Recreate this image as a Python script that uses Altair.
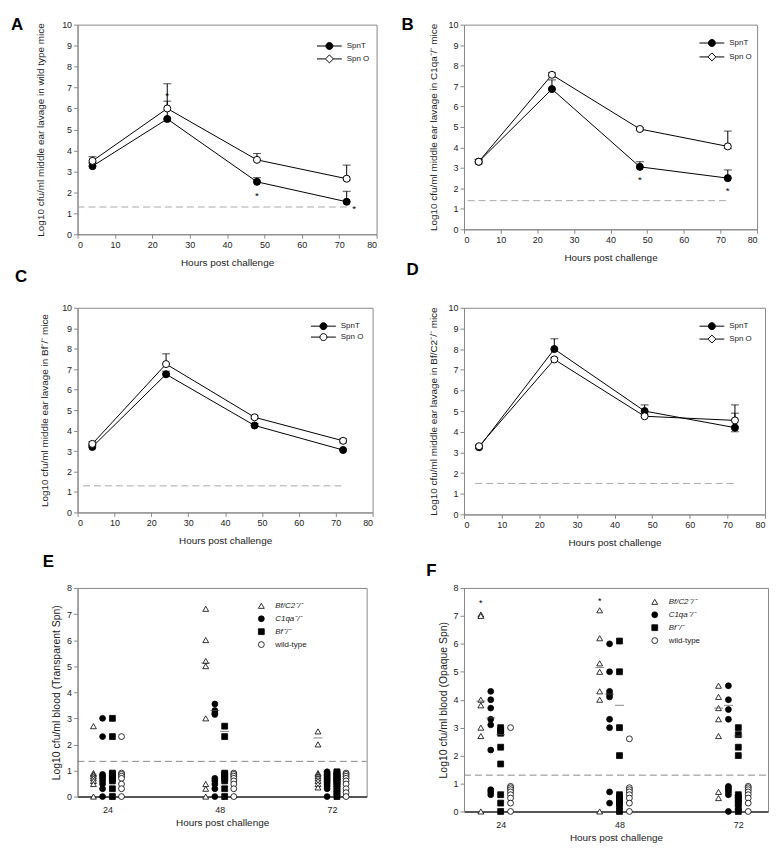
import altair as alt
import pandas as pd

FONT = "Liberation Sans"
HOURS = [4, 24, 48, 72]

# ---------------- Panel A : wild type ----------------
A_SPNT = [3.25, 5.5, 2.5, 1.55]
A_SPNT_LO = [3.25, 5.5, 2.5, 1.55]
A_SPNT_HI = [3.38, 6.35, 2.7, 2.05]
A_SPNO = [3.5, 6.0, 3.55, 2.65]
A_SPNO_LO = [3.42, 6.0, 3.55, 2.58]
A_SPNO_HI = [3.7, 7.18, 3.85, 3.3]
A_STAR_X = [24, 48, 74]
A_STAR_Y = [6.75, 1.95, 1.35]
A_LOD = 1.3
A_LOD_X = [0, 72]

# ---------------- Panel B : C1qa-/- ----------------
B_SPNT = [3.3, 6.85, 3.05, 2.5]
B_SPNT_LO = [3.3, 6.85, 3.05, 2.5]
B_SPNT_HI = [3.4, 7.3, 3.3, 2.9]
B_SPNO = [3.3, 7.55, 4.9, 4.05]
B_SPNO_LO = [3.2, 7.45, 4.82, 3.95]
B_SPNO_HI = [3.42, 7.65, 4.98, 4.8]
B_STAR_X = [48, 72]
B_STAR_Y = [2.55, 2.0]
B_LOD = 1.4
B_LOD_X = [1, 72]

# ---------------- Panel C : Bf-/- ----------------
C_SPNT = [3.2, 6.75, 4.25, 3.05]
C_SPNT_LO = [3.2, 6.75, 4.25, 3.05]
C_SPNT_HI = [3.3, 6.9, 4.35, 3.1]
C_SPNO = [3.35, 7.25, 4.65, 3.5]
C_SPNO_LO = [3.28, 7.25, 4.58, 3.4]
C_SPNO_HI = [3.45, 7.75, 4.72, 3.6]
C_STAR_X = []
C_STAR_Y = []
C_LOD = 1.3
C_LOD_X = [1.5, 72.5]

# ---------------- Panel D : Bf/C2-/- ----------------
D_SPNT = [3.25, 8.0, 5.0, 4.2]
D_SPNT_LO = [3.25, 8.0, 5.0, 4.0]
D_SPNT_HI = [3.35, 8.5, 5.3, 4.9]
D_SPNO = [3.3, 7.5, 4.75, 4.55]
D_SPNO_LO = [3.2, 7.5, 4.75, 4.55]
D_SPNO_HI = [3.35, 7.6, 4.85, 5.3]
D_STAR_X = []
D_STAR_Y = []
D_LOD = 1.5
D_LOD_X = [3, 72]

# ---------------- Panels E / F : blood ----------------
GROUPS = ["Bf/C2⁻/⁻", "C1qa⁻/⁻", "Bf⁻/⁻", "wild-type"]
SHAPES = ["triangle-up", "circle", "square", "circle"]
FILLS = ["white", "black", "black", "white"]

E_BFC2 = {24: [2.7, 0.9, 0.85, 0.78, 0.7, 0.6, 0.48, 0],
          48: [7.2, 6.0, 5.2, 5.0, 3.0, 0.48, 0.3, 0],
          72: [2.5, 2.0, 0.9, 0.85, 0.78, 0.7, 0.6, 0.48, 0.35]}
E_C1QA = {24: [3.0, 2.3, 0.85, 0.78, 0.7, 0.6, 0.48, 0.3, 0],
          48: [3.55, 3.3, 3.2, 3.15, 0.7, 0.6, 0.48, 0.3, 0],
          72: [0.95, 0.9, 0.85, 0.8, 0.75, 0.7, 0.65, 0.6, 0.55, 0.48, 0.4, 0.3, 0]}
E_BF = {24: [3.0, 2.3, 0.9, 0.85, 0.78, 0.7, 0.6, 0.3, 0],
        48: [2.7, 2.3, 0.9, 0.85, 0.78, 0.7, 0.6, 0.3, 0],
        72: [0.95, 0.9, 0.85, 0.8, 0.75, 0.7, 0.65, 0.6, 0.55, 0.48, 0.4, 0.3, 0.2, 0.1, 0]}
E_WT = {24: [2.3, 0.9, 0.85, 0.78, 0.7, 0.48, 0.3, 0],
        48: [0.9, 0.85, 0.78, 0.7, 0.6, 0.48, 0.3, 0],
        72: [0.9, 0.85, 0.78, 0.7, 0.6, 0.48, 0.3, 0.15, 0]}
E_MED_HOUR = [48, 48, 48, 72]
E_MED_GROUP = ["Bf/C2⁻/⁻", "C1qa⁻/⁻", "Bf⁻/⁻", "Bf/C2⁻/⁻"]
E_MED_Y = [5.12, 3.3, 2.5, 2.25]
E_STAR_HOUR = []
E_STAR_GROUP = []
E_STAR_Y = []
E_LOD = 1.35
E_XDOM = [17.6, 79.4]
E_OFFSETS = [-3.0, -1.05, 1.05, 3.0]

F_BFC2 = {24: [7.05, 7.0, 4.0, 3.8, 3.0, 2.7, 0],
          48: [7.2, 6.2, 5.3, 5.0, 4.3, 4.0, 0],
          72: [4.5, 4.1, 3.7, 3.3, 2.7, 0.7, 0.48]}
F_C1QA = {24: [4.3, 4.0, 3.7, 3.3, 3.1, 2.2, 0.78, 0.7, 0.6],
          48: [6.0, 5.0, 4.3, 4.2, 4.1, 3.3, 3.0, 0.7, 0.3],
          72: [4.5, 4.0, 3.65, 3.3, 0.9, 0.85, 0.78, 0.7, 0.6, 0]}
F_BF = {24: [3.0, 2.9, 2.8, 2.3, 1.7, 0.6, 0.3, 0],
        48: [6.1, 5.0, 3.0, 2.0, 0.6, 0.5, 0.4, 0.3, 0.2, 0],
        72: [3.0, 2.75, 2.3, 2.0, 0.6, 0.5, 0.4, 0.3, 0.15, 0]}
F_WT = {24: [3.0, 0.9, 0.85, 0.78, 0.7, 0.6, 0.48, 0.3, 0],
        48: [2.6, 0.85, 0.78, 0.7, 0.6, 0.48, 0.3, 0],
        72: [0.9, 0.85, 0.78, 0.7, 0.6, 0.48, 0.3, 0]}
F_MED_HOUR = [24, 24, 24, 48, 48, 48, 72, 72, 72]
F_MED_GROUP = ["Bf/C2⁻/⁻", "C1qa⁻/⁻", "Bf⁻/⁻"] * 3
F_MED_Y = [3.95, 3.35, 2.75, 5.15, 4.2, 3.8, 3.7, 3.8, 2.7]
F_STAR_HOUR = [24, 48]
F_STAR_GROUP = ["Bf/C2⁻/⁻", "Bf/C2⁻/⁻"]
F_STAR_Y = [7.55, 7.65]
F_LOD = 1.3
F_XDOM = [16.6, 78.0]
F_OFFSETS = [-4.0, -2.0, 0.0, 2.0]

P_CIRCLE = "M-2.5,0H-0.7M0.7,0H2.5M-0.7,0A0.7,0.7,0,1,1,0.7,0A0.7,0.7,0,1,1,-0.7,0Z"
P_DIAMOND = "M-2.5,0H-0.8M0.8,0H2.5M-0.8,0L0,-0.8L0.8,0L0,0.8Z"


def letter_layer(letters, lxs, lys):
    return alt.Chart(pd.DataFrame({"label": letters, "px": lxs, "py": lys})).mark_text(
        font=FONT, fontSize=17, fontWeight="bold", align="left", baseline="middle", color="black"
    ).encode(text="label:N", x=alt.X("px:Q", scale=None), y=alt.Y("py:Q", scale=None))


def line_panel(letters, ytitle, spnt, spnt_lo, spnt_hi, spno, spno_lo, spno_hi,
               star_x, star_y, lod, lod_x, w, h, lxs, lys, legxy, rowpad, diamond, tpad):
    rows = []
    for s, m, lo, hi in (("SpnT", spnt, spnt_lo, spnt_hi), ("Spn O", spno, spno_lo, spno_hi)):
        for t, mv, lv, hv in zip(HOURS, m, lo, hi):
            rows.append(dict(series=s, hour=t, mean=mv, lo=lv, hi=hv))
    df = pd.DataFrame(rows)
    xs = alt.Scale(domain=[0, 80], nice=False)
    ys = alt.Scale(domain=[0, 10], nice=False)
    xax = alt.Axis(values=list(range(0, 81, 10)), title="Hours post challenge", titlePadding=8)
    yax = alt.Axis(values=list(range(0, 11)), title=ytitle, titlePadding=tpad)

    def X(f):
        return alt.X(f"{f}:Q", scale=xs, axis=xax)

    def Y(f):
        return alt.Y(f"{f}:Q", scale=ys, axis=yax)

    lod_df = pd.DataFrame({"hour": [lod_x[0]], "hour2": [lod_x[1]], "mean": [lod]})
    lodc = alt.Chart(lod_df).mark_rule(color="#a8a8a8", strokeDash=[7, 4], strokeWidth=1).encode(
        x=X("hour"), x2="hour2:Q", y=Y("mean"))
    err = alt.Chart(df).mark_rule(color="black", strokeWidth=1).encode(x=X("hour"), y=Y("lo"), y2="hi:Q")
    caps_hi = alt.Chart(df[df["hi"] > df["mean"]]).mark_tick(
        orient="horizontal", size=8, thickness=1, color="black").encode(x=X("hour"), y=Y("hi"))
    caps_lo = alt.Chart(df[df["lo"] < df["mean"]]).mark_tick(
        orient="horizontal", size=8, thickness=1, color="black").encode(x=X("hour"), y=Y("lo"))
    line = alt.Chart(df).mark_line(color="black", strokeWidth=1).encode(x=X("hour"), y=Y("mean"), detail="series:N")
    if diamond:
        stype = {"expr": "datum.label == 'SpnT' ? '" + P_CIRCLE + "' : '" + P_DIAMOND + "'"}
    else:
        stype = P_CIRCLE
    leg = alt.Legend(title=None, orient="none", legendX=legxy[0], legendY=legxy[1], padding=0,
                     symbolSize=100, symbolType=stype, symbolStrokeColor="black", symbolStrokeWidth=1,
                     labelOffset=12, labelFontSize=8, labelFont=FONT, labelColor="#222", rowPadding=rowpad,
                     labelFontStyle="normal")
    pts = alt.Chart(df).mark_point(filled=True, size=50, stroke="black", strokeWidth=1, opacity=1).encode(
        x=X("hour"), y=Y("mean"),
        fill=alt.Fill("series:N", scale=alt.Scale(domain=["SpnT", "Spn O"], range=["black", "white"]), legend=leg))
    layers = [lodc, err, caps_hi, caps_lo, line, pts]
    if star_x:
        sdf = pd.DataFrame({"hour": star_x, "mean": star_y})
        layers.append(alt.Chart(sdf).mark_text(text="*", fontSize=10, font=FONT, baseline="middle", dy=3,
                                               color="black").encode(x=X("hour"), y=Y("mean")))
    layers.append(letter_layer(letters, lxs, lys))
    return alt.layer(*layers).properties(width=w, height=h)


def scatter_panel(letter, ytitle, gdata, med_h, med_g, med_y, st_h, st_g, st_y, lod, xdom, offsets,
                  w, h, lxy, legxy, tpad):
    off = dict(zip(GROUPS, offsets))
    rows = []
    for g, d in zip(GROUPS, gdata):
        for t, vals in d.items():
            for v in vals:
                rows.append(dict(group=g, hour=t, x=t + off[g], val=v))
    df = pd.DataFrame(rows)
    xs = alt.Scale(domain=xdom, nice=False)
    ys = alt.Scale(domain=[0, 8], nice=False)
    xax = alt.Axis(values=[24, 48, 72], title="Hours post challenge", ticks=False, labelPadding=9,
                   titlePadding=3, domainColor="#333", domainWidth=1.5)
    yax = alt.Axis(values=list(range(0, 9)), title=ytitle, titlePadding=tpad, titleFontSize=10.5)

    def X(f):
        return alt.X(f"{f}:Q", scale=xs, axis=xax)

    def Y(f):
        return alt.Y(f"{f}:Q", scale=ys, axis=yax)

    lod_df = pd.DataFrame({"x": [xdom[0]], "x2": [xdom[1]], "val": [lod]})
    lodc = alt.Chart(lod_df).mark_rule(color="#888", strokeDash=[7, 4], strokeWidth=1).encode(
        x=X("x"), x2="x2:Q", y=Y("val"))
    sym_expr = ("indexof(datum.label, 'C2') >= 0 ? 'triangle-up' : "
                "(indexof(datum.label, 'Bf') == 0 ? 'square' : 'circle')")
    leg = alt.Legend(title=None, orient="none", legendX=legxy[0], legendY=legxy[1], padding=0,
                     symbolSize=35, symbolType={"expr": sym_expr},
                     symbolStrokeColor="black", symbolStrokeWidth=0.8,
                     labelOffset=10, labelFontSize=8, labelFont=FONT, labelColor="#222", rowPadding=3,
                     labelFontStyle={"expr": "datum.label == 'wild-type' ? 'normal' : 'italic'"})
    fill = alt.Fill("group:N", scale=alt.Scale(domain=GROUPS, range=FILLS), legend=leg)
    layers = [lodc]
    for shp in ["triangle-up", "circle", "square"]:
        sub = df[df["group"].map(dict(zip(GROUPS, SHAPES))) == shp]
        layers.append(alt.Chart(sub).mark_point(filled=True, shape=shp, size=35, stroke="black",
                                                strokeWidth=0.8, opacity=1).encode(
            x=X("x"), y=Y("val"), fill=fill))
    mdf = pd.DataFrame({"x": [t + off[g] for t, g in zip(med_h, med_g)], "val": med_y})
    layers.append(alt.Chart(mdf).mark_tick(orient="horizontal", size=9, thickness=1, color="#555").encode(
        x=X("x"), y=Y("val")))
    if st_h:
        sdf = pd.DataFrame({"x": [t + off[g] for t, g in zip(st_h, st_g)], "val": st_y})
        layers.append(alt.Chart(sdf).mark_text(text="*", fontSize=9, font=FONT, baseline="middle", dy=3,
                                               color="black").encode(x=X("x"), y=Y("val")))
    layers.append(letter_layer([letter], [lxy[0]], [lxy[1]]))
    return alt.layer(*layers).properties(width=w, height=h)


# letters C and D are drawn in the panels above them (row 2 starts 285 px below row 1)
pA = line_panel(["A", "C"], "Log10 cfu/ml middle ear lavage in wild type mice",
                A_SPNT, A_SPNT_LO, A_SPNT_HI, A_SPNO, A_SPNO_LO, A_SPNO_HI, A_STAR_X, A_STAR_Y,
                A_LOD, A_LOD_X, 301, 211, [-67, -63], [0, 254], (248, 16), 1, True, 16)
pB = line_panel(["B", "D"], "Log10 cfu/ml middle ear lavage in C1qa⁻/⁻ mice",
                B_SPNT, B_SPNT_LO, B_SPNT_HI, B_SPNO, B_SPNO_LO, B_SPNO_HI, B_STAR_X, B_STAR_Y,
                B_LOD, B_LOD_X, 295, 206, [-63, -58], [0, 247], (244, 13), 2, True, 10)
pC = line_panel([], "Log10 cfu/ml middle ear lavage in Bf⁻/⁻ mice",
                C_SPNT, C_SPNT_LO, C_SPNT_HI, C_SPNO, C_SPNO_LO, C_SPNO_HI, C_STAR_X, C_STAR_Y,
                C_LOD, C_LOD_X, 297, 206, [], [], (242, 13), 0, False, 12)
pD = line_panel([], "Log10 cfu/ml middle ear lavage in Bf/C2⁻/⁻ mice",
                D_SPNT, D_SPNT_LO, D_SPNT_HI, D_SPNO, D_SPNO_LO, D_SPNO_HI, D_STAR_X, D_STAR_Y,
                D_LOD, D_LOD_X, 303, 208, [], [], (244, 13), 1, True, 10)
pE = scatter_panel("E", "Log10 cfu/ml blood (Transparent Spn)", [E_BFC2, E_C1QA, E_BF, E_WT],
                   E_MED_HOUR, E_MED_GROUP, E_MED_Y, E_STAR_HOUR, E_STAR_GROUP, E_STAR_Y,
                   E_LOD, E_XDOM, E_OFFSETS, 291, 210, (-35, -26), (181, 14), 5)
pF = scatter_panel("F", "Log10 cfu/ml blood (Opaque Spn)", [F_BFC2, F_C1QA, F_BF, F_WT],
                   F_MED_HOUR, F_MED_GROUP, F_MED_Y, F_STAR_HOUR, F_STAR_GROUP, F_STAR_Y,
                   F_LOD, F_XDOM, F_OFFSETS, 306, 225, (-38, -17), (188, 10), 5)

chart = alt.concat(pA, pB, pC, pD, pE, pF, columns=2, spacing={"row": 74, "column": 88},
                   align="none", bounds="flush").resolve_scale(
    fill="independent", shape="independent"
).resolve_legend(fill="independent", shape="independent").properties(
    padding={"left": 2, "top": 4, "right": 2, "bottom": 0}
).configure_view(stroke="#888", strokeWidth=1).configure_axis(
    domainColor="#888", tickColor="#888", labelColor="#222", titleColor="#222",
    labelFont=FONT, titleFont=FONT, labelFontSize=9, titleFontSize=10, titleFontWeight="normal",
    grid=False, tickSize=4
)

chart.save("out.html", embed_options={"renderer": "svg", "actions": False})
